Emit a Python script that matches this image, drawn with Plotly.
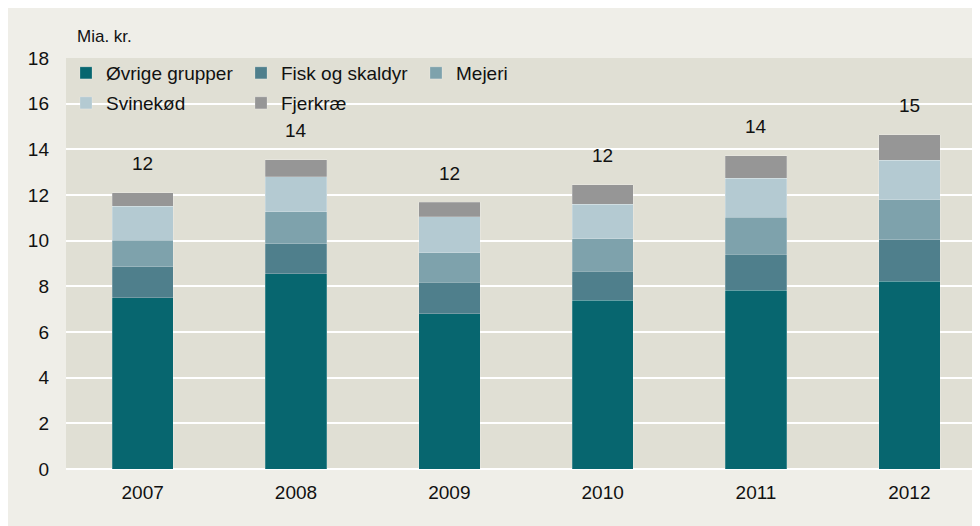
import plotly.graph_objects as go
import numpy as np

years = ['2007', '2008', '2009', '2010', '2011', '2012']

ovrige = [7.50, 8.55, 6.80, 7.40, 7.83, 8.22]
fisk = [1.35, 1.32, 1.38, 1.26, 1.58, 1.82]
mejeri = [1.17, 1.39, 1.30, 1.42, 1.61, 1.75]
svinekod = [1.49, 1.55, 1.56, 1.52, 1.72, 1.73]
fjerkrae = [0.59, 0.74, 0.65, 0.86, 0.98, 1.11]

series = [
    ('Øvrige grupper', ovrige, '#07666F', 'legend'),
    ('Fisk og skaldyr', fisk, '#4F7F8C', 'legend'),
    ('Mejeri', mejeri, '#7EA2AC', 'legend'),
    ('Svinekød', svinekod, '#B4CAD2', 'legend2'),
    ('Fjerkræ', fjerkrae, '#969696', 'legend2'),
]

totals = np.sum([ovrige, fisk, mejeri, svinekod, fjerkrae], axis=0)

font = 'Liberation Sans, Arial, sans-serif'

fig = go.Figure()
for name, vals, col, leg in series:
    fig.add_trace(go.Bar(x=years, y=vals, name=name, marker_color=col,
                         marker_line=dict(width=0.6, color='rgba(255,255,255,0.35)'),
                         legend=leg))

# totals over the bars (category index, since '2007' would be read as an index)
for i, tot in enumerate(totals):
    fig.add_annotation(x=i, y=tot, text=str(int(round(tot))), showarrow=False,
                       yshift=29, font=dict(size=19, color='#111111', family=font))

fig.add_annotation(xref='paper', yref='paper', x=0.01, y=1.0, yshift=22, text='Mia. kr.',
                   showarrow=False, xanchor='left', yanchor='middle',
                   font=dict(size=17, color='#111111', family=font))

legend_style = dict(orientation='h', xanchor='left', yanchor='middle',
                    bgcolor='rgba(0,0,0,0)', entrywidth=130, entrywidthmode='pixels',
                    traceorder='normal', itemclick=False,
                    font=dict(size=19, color='#111111', family=font))

fig.update_layout(
    width=980, height=526,
    margin=dict(l=58, r=2, t=50, b=65),
    barmode='stack', bargap=0.6,
    plot_bgcolor='#E0DFD4', paper_bgcolor='#EFEEE8',
    font=dict(family=font, size=19, color='#111111'),
    legend=dict(x=0, y=0.9635, **legend_style),
    legend2=dict(x=0, y=0.8905, **legend_style),
    xaxis=dict(type='category', range=[-0.5, 5.5], showgrid=False, ticks='',
               ticklabelstandoff=10, tickfont=dict(size=19)),
    yaxis=dict(range=[0, 18], dtick=2, gridcolor='#FFFFFF', gridwidth=2,
               zeroline=True, zerolinecolor='#FFFFFF', zerolinewidth=2,
               ticks='', ticklabelstandoff=16, tickfont=dict(size=19)),
)

fig.write_html("out.html")
